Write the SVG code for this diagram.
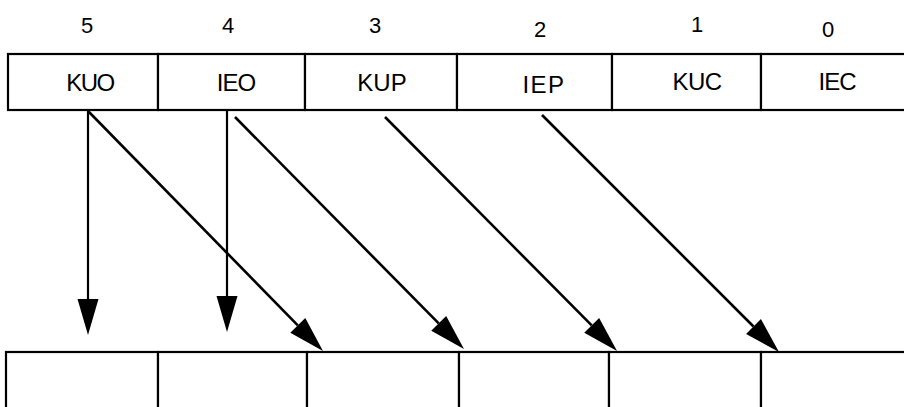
<svg xmlns="http://www.w3.org/2000/svg" width="904" height="407" viewBox="0 0 904 407">
<style>
.cell{fill:#fff;stroke:#000;stroke-width:2.2}
.num{font-family:"Liberation Sans",Arial,sans-serif;font-size:22px;fill:#000;text-anchor:middle}
.lbl{font-family:"Liberation Sans",Arial,sans-serif;font-size:24px;fill:#000;text-anchor:middle}
.conn line{stroke:#000;stroke-width:2.6;fill:none;marker-end:url(#ah)}
.conn line.v{stroke-width:2.2}
</style>
<defs>
<marker id="ah" markerUnits="userSpaceOnUse" markerWidth="37" markerHeight="22" refX="0" refY="10.5" orient="auto" overflow="visible">
<path d="M0,0 L36,10.5 L0,21 z" fill="#000"/>
</marker>
</defs>
<rect width="904" height="407" fill="#fff"/>
<g id="bitnums">
<text class="num" x="87" y="33" style="font-size:22px">5</text>
<text class="num" x="228" y="33" style="font-size:22px">4</text>
<text class="num" x="375" y="33" style="font-size:22px">3</text>
<text class="num" x="540" y="37" style="font-size:22px">2</text>
<text class="num" x="697" y="32" style="font-size:22px">1</text>
<text class="num" x="828" y="37" style="font-size:22px">0</text>
</g>
<g id="src5"><rect class="cell" x="8" y="54" width="150" height="56"/><text class="lbl" x="90" y="91" letter-spacing="-1.5">KUO</text></g>
<g id="src4"><rect class="cell" x="158" y="54" width="147" height="56"/><text class="lbl" x="236" y="91" letter-spacing="-1">IEO</text></g>
<g id="src3"><rect class="cell" x="305" y="54" width="152" height="56"/><text class="lbl" x="382" y="91">KUP</text></g>
<g id="src2"><rect class="cell" x="457" y="54" width="155" height="56"/><text class="lbl" x="544" y="93" letter-spacing="1.5">IEP</text></g>
<g id="src1"><rect class="cell" x="612" y="54" width="149" height="56"/><text class="lbl" x="697" y="90" letter-spacing="-0.5">KUC</text></g>
<g id="src0"><rect class="cell" x="761" y="54" width="150" height="56"/><text class="lbl" x="837" y="90" letter-spacing="-1">IEC</text></g>
<g id="dst5"><rect class="cell" x="6" y="352" width="152" height="70"/></g>
<g id="dst4"><rect class="cell" x="158" y="352" width="149" height="70"/></g>
<g id="dst3"><rect class="cell" x="307" y="352" width="152" height="70"/></g>
<g id="dst2"><rect class="cell" x="459" y="352" width="150" height="70"/></g>
<g id="dst1"><rect class="cell" x="609" y="352" width="152" height="70"/></g>
<g id="dst0"><rect class="cell" x="761" y="352" width="150" height="70"/></g>
<g id="connectors" class="conn">
<line class="v" x1="88" y1="110" x2="88" y2="299"/>
<line class="v" x1="227" y1="110" x2="227" y2="296"/>
<line x1="88" y1="111" x2="297.8" y2="325.3"/>
<line x1="235" y1="117" x2="438.7" y2="323.4"/>
<line x1="385" y1="117" x2="591.7" y2="325.4"/>
<line x1="542" y1="115" x2="753.5" y2="326.5"/>
</g>
</svg>
